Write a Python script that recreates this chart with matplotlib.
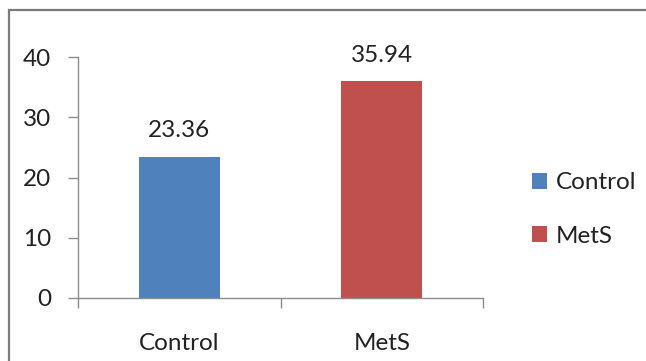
import numpy as np
import matplotlib.pyplot as plt
from matplotlib.patches import Rectangle

groups = ["Control", "MetS"]
values = [23.36, 35.94]
colors = ["#4F81BD", "#C0504D"]
yticks = [0, 10, 20, 30, 40]

plt.rcParams['font.family'] = ['Lato', 'DejaVu Sans']
FS = 17.5
TXT = '#222222'

W, H = 646, 361
fig = plt.figure(figsize=(W/100, H/100), dpi=100)
ax = fig.add_axes([78/W, (H-298)/H, 405/W, 241/H])

x = np.arange(len(groups))
bars = ax.bar(x, values, width=0.40, color=colors, label=groups, zorder=2)
for xi, v in zip(x, values):
    ax.text(xi, v + 3.3, f"{v:.2f}", ha='center', va='baseline',
            fontsize=FS, color=TXT)

ax.set_xlim(-0.5, 1.5)
ax.set_ylim(0, 40)
ax.set_yticks(yticks)
ax.set_yticklabels([str(t) for t in yticks], fontsize=FS, color=TXT)

# category boundaries get the tick marks, names sit between them
ax.set_xticks([-0.5, 0.5, 1.5])
ax.set_xticklabels([])
ax.set_xticks(x, minor=True)
ax.set_xticklabels(groups, minor=True, fontsize=FS, color=TXT)
ax.tick_params(axis='x', which='major', length=7.5, width=1, color='#8c8c8c')
ax.tick_params(axis='x', which='minor', length=0, pad=25)
ax.tick_params(axis='y', length=7.5, width=1, color='#8c8c8c', pad=12)

for s in ['top', 'right']:
    ax.spines[s].set_visible(False)
for s in ['left', 'bottom']:
    ax.spines[s].set_color('#8c8c8c')
    ax.spines[s].set_linewidth(1)

leg = fig.legend(handles=bars, labels=groups, loc='center left',
                 bbox_to_anchor=(532/W, 1 - 209.5/H), frameon=False,
                 borderpad=0, borderaxespad=0,
                 fontsize=FS, handlelength=0.62, handleheight=0.62,
                 handletextpad=0.35, labelspacing=1.33)
for t in leg.get_texts():
    t.set_color(TXT)

# outer chart frame, running off the right and bottom edges
fig.patches.append(Rectangle((9/W, -0.1), 1.2, 1 - 10/H + 0.1,
                             transform=fig.transFigure, fill=False,
                             edgecolor='#7a7a7a', linewidth=1.6))

fig.savefig("out.png", dpi=100)
